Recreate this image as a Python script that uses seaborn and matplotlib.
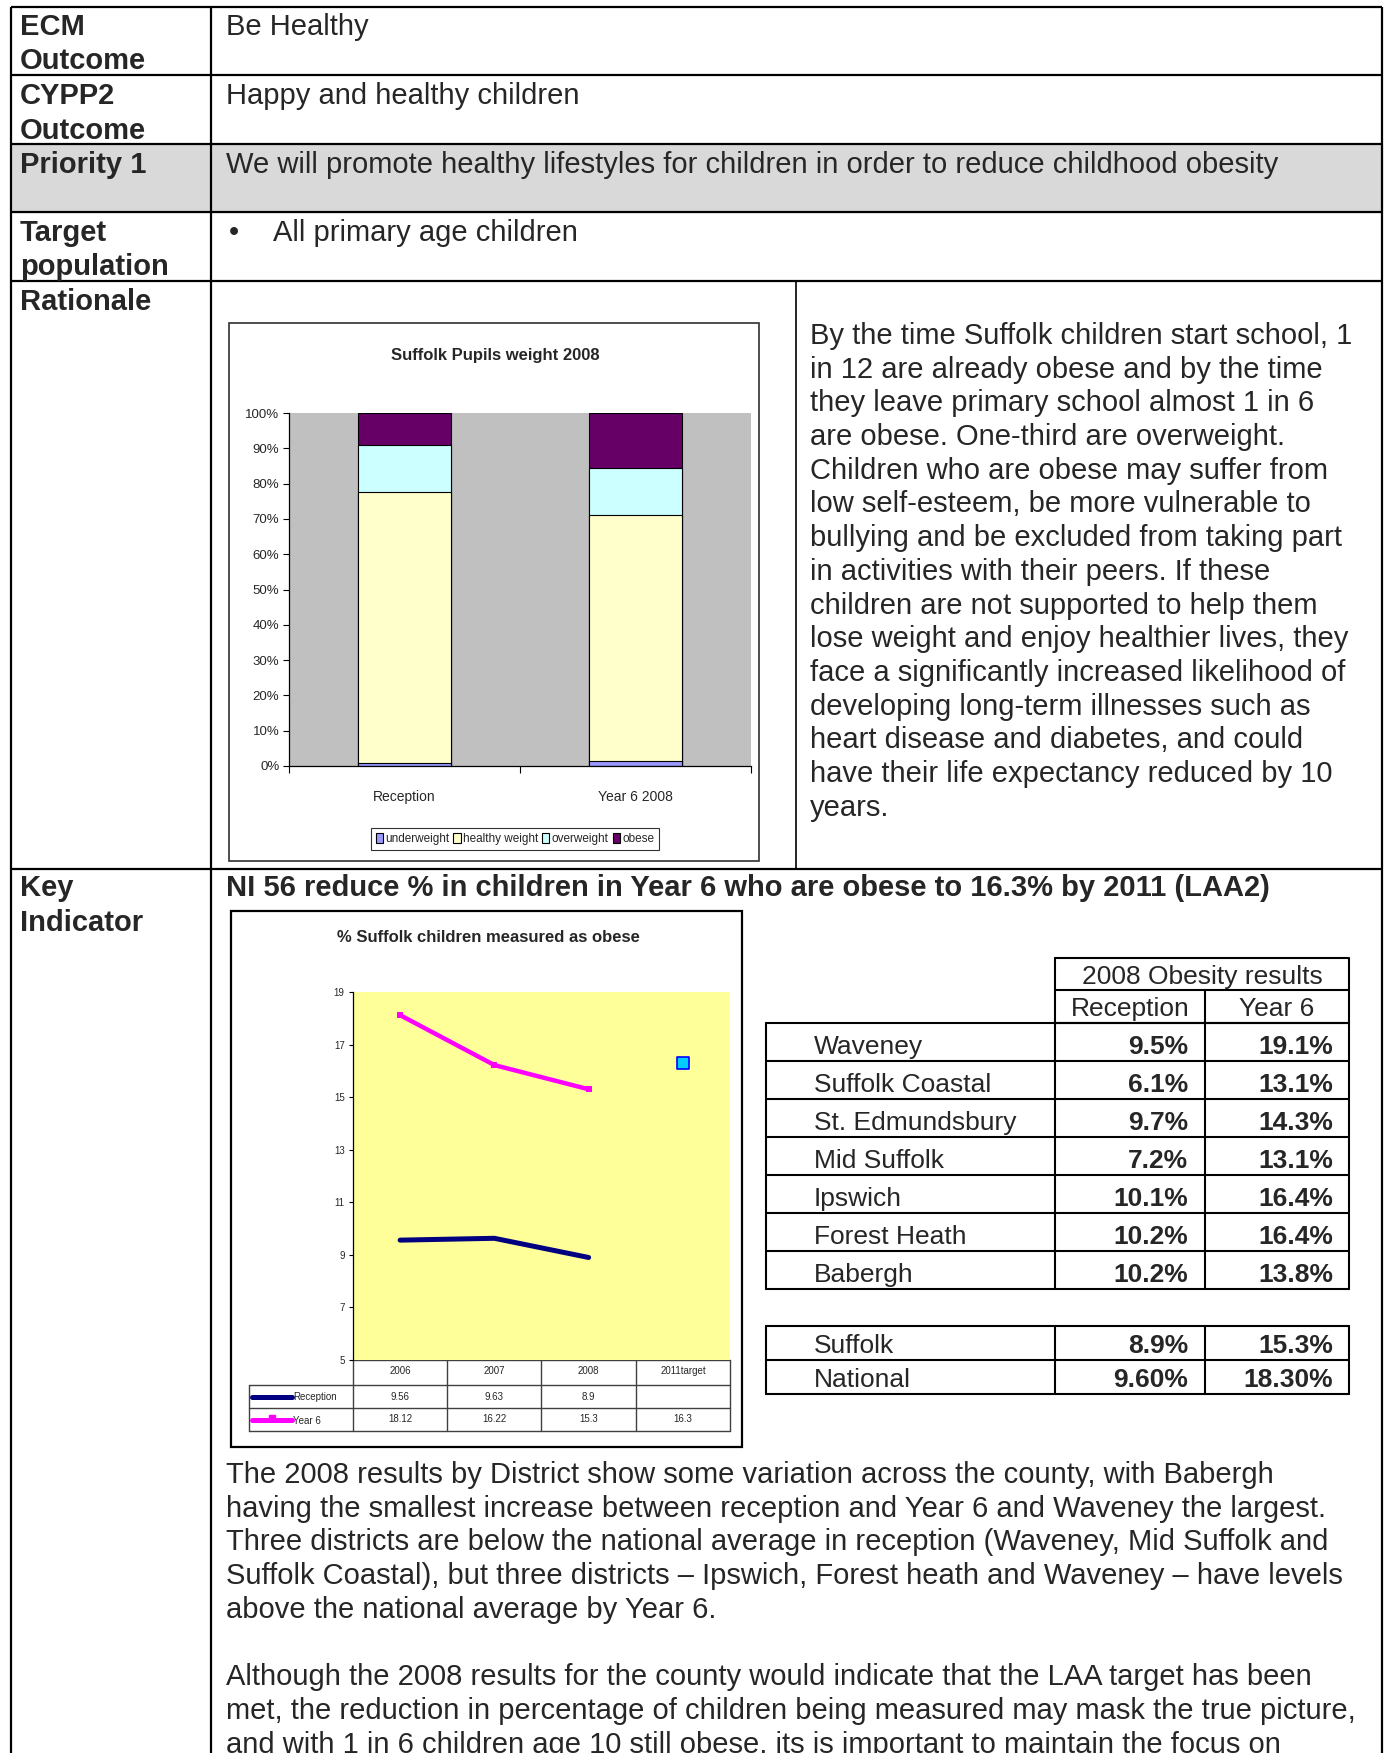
import numpy as np
import pandas as pd
import matplotlib
matplotlib.use("Agg")
import matplotlib.pyplot as plt
import seaborn as sns
from matplotlib.patches import Rectangle

# ---- data ----
weight_groups = ["Reception", "Year 6 2008"]
weight_cats = ["underweight", "healthy weight", "overweight", "obese"]
underweight = [0.8, 1.3]
healthy = [76.9, 69.7]
overweight = [13.2, 13.5]
obese = [9.1, 15.5]
weight_colors = ["#9999FF", "#FFFFCC", "#CCFFFF", "#660066"]

years = ["2006", "2007", "2008", "2011target"]
reception_obese = [9.56, 9.63, 8.9, np.nan]
year6_obese = [18.12, 16.22, 15.3, np.nan]
target_year6 = 16.3

districts = ["Waveney", "Suffolk Coastal", "St. Edmundsbury", "Mid Suffolk",
             "Ipswich", "Forest Heath", "Babergh"]
dist_reception = [9.5, 6.1, 9.7, 7.2, 10.1, 10.2, 10.2]
dist_year6 = [19.1, 13.1, 14.3, 13.1, 16.4, 16.4, 13.8]
summary_names = ["Suffolk", "National"]
summary_reception = ["8.9%", "9.60%"]
summary_year6 = ["15.3%", "18.30%"]

row_labels = [("ECM", "Outcome"), ("CYPP2", "Outcome"), ("Priority 1",),
              ("Target", "population"), ("Rationale",), ("Key", "Indicator")]

rationale_text = [
    "By the time Suffolk children start school, 1",
    "in 12 are already obese and by the time",
    "they leave primary school almost 1 in 6",
    "are obese. One-third are overweight.",
    "Children who are obese may suffer from",
    "low self-esteem, be more vulnerable to",
    "bullying and be excluded from taking part",
    "in activities with their peers. If these",
    "children are not supported to help them",
    "lose weight and enjoy healthier lives, they",
    "face a significantly increased likelihood of",
    "developing long-term illnesses such as",
    "heart disease and diabetes, and could",
    "have their life expectancy reduced by 10",
    "years.",
]
district_text = [
    "The 2008 results by District show some variation across the county, with Babergh",
    "having the smallest increase between reception and Year 6 and Waveney the largest.",
    "Three districts are below the national average in reception (Waveney, Mid Suffolk and",
    "Suffolk Coastal), but three districts \u2013 Ipswich, Forest heath and Waveney \u2013 have levels",
    "above the national average by Year 6.",
    "",
    "Although the 2008 results for the county would indicate that the LAA target has been",
    "met, the reduction in percentage of children being measured may mask the true picture,",
    "and with 1 in 6 children age 10 still obese, its is important to maintain the focus on",
]

sns.set_theme(style="white")
plt.rcParams["font.family"] = ["Liberation Sans", "DejaVu Sans"]
NARROW = ["Liberation Sans Narrow", "Liberation Sans", "DejaVu Sans"]

W, H = 1387, 1753
fig = plt.figure(figsize=(W / 100, H / 100), dpi=100)


def box(x0, y0, x1, y1):
    return [x0 / W, 1 - y1 / H, (x1 - x0) / W, (y1 - y0) / H]


bg = fig.add_axes([0, 0, 1, 1], zorder=0)
bg.set_xlim(0, W)
bg.set_ylim(H, 0)
bg.axis("off")

# ---- page table ----
L, D, R = 11, 211, 1382
row_lines = [7, 75, 144, 212, 281, 869]
bg.add_patch(Rectangle((L, 144), R - L, 212 - 144, color="#D9D9D9", zorder=0))
for y in row_lines:
    bg.plot([L, R], [y, y], color="black", lw=1.6, solid_capstyle="butt")
for x in (L, D, R):
    bg.plot([x, x], [7, H], color="black", lw=1.6, solid_capstyle="butt")
bg.plot([796, 796], [281, 869], color="black", lw=1.2)

label_base = [(34.6, 69), (104, 138.6), (173,), (241, 275), (309.6,), (896, 931)]
for lines, ys in zip(row_labels, label_base):
    for s, y in zip(lines, ys):
        bg.text(20, y, s, fontsize=21, fontweight="bold", va="baseline")

bg.text(226, 34.6, "Be Healthy", fontsize=21, va="baseline")
bg.text(226, 104, "Happy and healthy children", fontsize=21, va="baseline")
bg.text(226, 173, "We will promote healthy lifestyles for children in order to reduce childhood obesity",
        fontsize=21, va="baseline")
bg.text(229, 241, "\u2022", fontsize=21, va="baseline")
bg.text(273, 241, "All primary age children", fontsize=21, va="baseline")
bg.text(226, 896, "NI 56 reduce % in children in Year 6 who are obese to 16.3% by 2011 (LAA2)",
        fontsize=21, fontweight="bold", va="baseline")

for i, s in enumerate(rationale_text):
    bg.text(810, 344 + i * 33.7, s, fontsize=21, va="baseline")
for i, s in enumerate(district_text):
    bg.text(226, 1483 + i * 33.7, s, fontsize=21, va="baseline")

# ---- bar chart: Suffolk Pupils weight 2008 ----
bg.add_patch(Rectangle((229, 323), 530, 538, fill=False, ec="#303030", lw=1.2))
bg.text(495, 355, "Suffolk Pupils weight 2008", fontsize=12, fontweight="bold",
        family=NARROW, ha="center", va="center")

bax = fig.add_axes(box(289, 413, 751, 766), zorder=2)
bax.set_facecolor("#C0C0C0")
layers = np.cumsum([underweight, healthy, overweight, obese], axis=0)
for i in range(len(weight_cats) - 1, -1, -1):
    sns.barplot(x=weight_groups, y=layers[i], color=weight_colors[i], saturation=1,
                width=0.4, edgecolor="black", linewidth=0.8, errorbar=None, ax=bax)
bax.set_xlim(-0.5, 1.5)
bax.set_ylim(0, 100)
bax.set_yticks(range(0, 101, 10))
bax.set_yticklabels([f"{v}%" for v in range(0, 101, 10)])
bax.set_xticks([-0.5, 0.5, 1.5], minor=True)
for side in ("top", "right"):
    bax.spines[side].set_visible(False)
for side in ("left", "bottom"):
    bax.spines[side].set_color("black")
    bax.spines[side].set_linewidth(0.9)
bax.tick_params(axis="y", which="major", left=True, length=4, width=0.8, color="black",
                pad=3, labelsize=9.5)
bax.tick_params(axis="x", which="major", bottom=False, pad=11, labelsize=10)
bax.tick_params(axis="x", which="minor", bottom=True, length=5, width=0.8, color="black")
for lab in bax.get_xticklabels() + bax.get_yticklabels():
    lab.set_fontfamily(NARROW)
bax.set_xlabel("")
bax.set_ylabel("")
handles = [Rectangle((0, 0), 1, 1, fc=c, ec="black", lw=0.8) for c in weight_colors]
leg = bax.legend(handles, weight_cats, ncol=4, loc="center",
                 bbox_to_anchor=(515 / W, 1 - 839 / H), bbox_transform=fig.transFigure,
                 prop={"family": NARROW, "size": 8.5}, handlelength=0.6, handleheight=0.9,
                 handletextpad=0.2, columnspacing=0.35, borderpad=0.4, fancybox=False,
                 frameon=True, edgecolor="black")
leg.get_frame().set_linewidth(0.8)

# ---- line chart: % Suffolk children measured as obese ----
bg.add_patch(Rectangle((231, 911), 511, 536, fill=False, ec="black", lw=1.6))
bg.text(488, 937, "% Suffolk children measured as obese", fontsize=12,
        fontweight="bold", ha="center", va="center")

lax = fig.add_axes(box(353, 992, 730, 1360), zorder=2)
lax.set_facecolor("#FFFF99")
pos = np.arange(len(years))
sns.lineplot(x=pos, y=reception_obese, color="#000080", lw=3.6, ax=lax)
sns.lineplot(x=pos, y=year6_obese, color="#FF00FF", lw=3.2, marker="s", markersize=4,
             markeredgewidth=0, ax=lax)
sns.scatterplot(x=[pos[-1]], y=[target_year6], marker="s", s=70, color="#00CCFF",
                edgecolor="#0000FF", linewidth=1.2, ax=lax, zorder=5)
lax.set_xlim(-0.5, 3.5)
lax.set_ylim(5, 19)
lax.set_yticks(range(5, 20, 2))
lax.set_xticks([])
for side in ("top", "right", "bottom"):
    lax.spines[side].set_visible(False)
lax.spines["left"].set_color("black")
lax.spines["left"].set_linewidth(0.9)
lax.tick_params(axis="y", left=True, length=3, width=0.8, color="black", pad=3, labelsize=7)

# data table under the line chart
cols = [249, 353, 447, 541, 636, 730]
rows = [1360, 1385, 1408, 1431]
tc = "#404040"
for x in cols[1:]:
    bg.plot([x, x], [rows[0], rows[-1]], color=tc, lw=1)
bg.plot([cols[0], cols[0]], [rows[1], rows[-1]], color=tc, lw=1)
bg.plot([cols[1], cols[-1]], [rows[0], rows[0]], color=tc, lw=1)
for y in rows[1:]:
    bg.plot([cols[0], cols[-1]], [y, y], color=tc, lw=1)
for j, yr in enumerate(years):
    cx = (cols[j + 1] + cols[j + 2]) / 2
    bg.text(cx, (rows[0] + rows[1]) / 2 - 1, yr, fontsize=7, ha="center", va="center")
series = [("Reception", reception_obese, "#000080", None),
          ("Year 6", year6_obese[:3] + [target_year6], "#FF00FF", "s")]
for i, (name, vals, col, mk) in enumerate(series):
    cy = (rows[i + 1] + rows[i + 2]) / 2
    bg.plot([252, 292], [cy, cy], color=col, lw=3.6, solid_capstyle="round")
    if mk:
        bg.plot([272], [cy - 1.5], marker=mk, color=col, markersize=4)
    bg.text(293, cy + 1, name, fontsize=7, ha="left", va="center")
    for j, v in enumerate(vals):
        if not np.isnan(v):
            cx = (cols[j + 1] + cols[j + 2]) / 2
            bg.text(cx, cy, f"{v:g}", fontsize=7, ha="center", va="center")

# ---- district results table ----
tx = [766, 1055, 1205, 1349]
bg.plot([tx[1], tx[3], tx[3], tx[1], tx[1]], [958, 958, 1023, 1023, 958], color="black", lw=1.5)
bg.plot([tx[1], tx[3]], [990, 990], color="black", lw=1.5)
bg.plot([tx[2], tx[2]], [990, 1023], color="black", lw=1.5)
bg.text((tx[1] + tx[3]) / 2, 984, "2008 Obesity results", fontsize=19, ha="center", va="baseline")
bg.text((tx[1] + tx[2]) / 2, 1016, "Reception", fontsize=19, ha="center", va="baseline")
bg.text((tx[2] + tx[3]) / 2, 1016, "Year 6", fontsize=19, ha="center", va="baseline")


def draw_rows(top, step, names, rec, y6):
    n = len(names)
    bottom = top + n * step
    for k in range(n + 1):
        bg.plot([tx[0], tx[3]], [top + k * step, top + k * step], color="black", lw=1.5)
    for x in tx:
        bg.plot([x, x], [top, bottom], color="black", lw=1.5)
    for k in range(n):
        yb = top + (k + 1) * step - 7
        bg.text(814, yb, names[k], fontsize=19, va="baseline")
        bg.text(1188, yb, rec[k], fontsize=19, fontweight="bold", ha="right", va="baseline")
        bg.text(1333, yb, y6[k], fontsize=19, fontweight="bold", ha="right", va="baseline")


draw_rows(1023, 38, districts, [f"{v:.1f}%" for v in dist_reception],
          [f"{v:.1f}%" for v in dist_year6])
draw_rows(1326, 34, summary_names, summary_reception, summary_year6)

fig.savefig("out.png", dpi=100)
